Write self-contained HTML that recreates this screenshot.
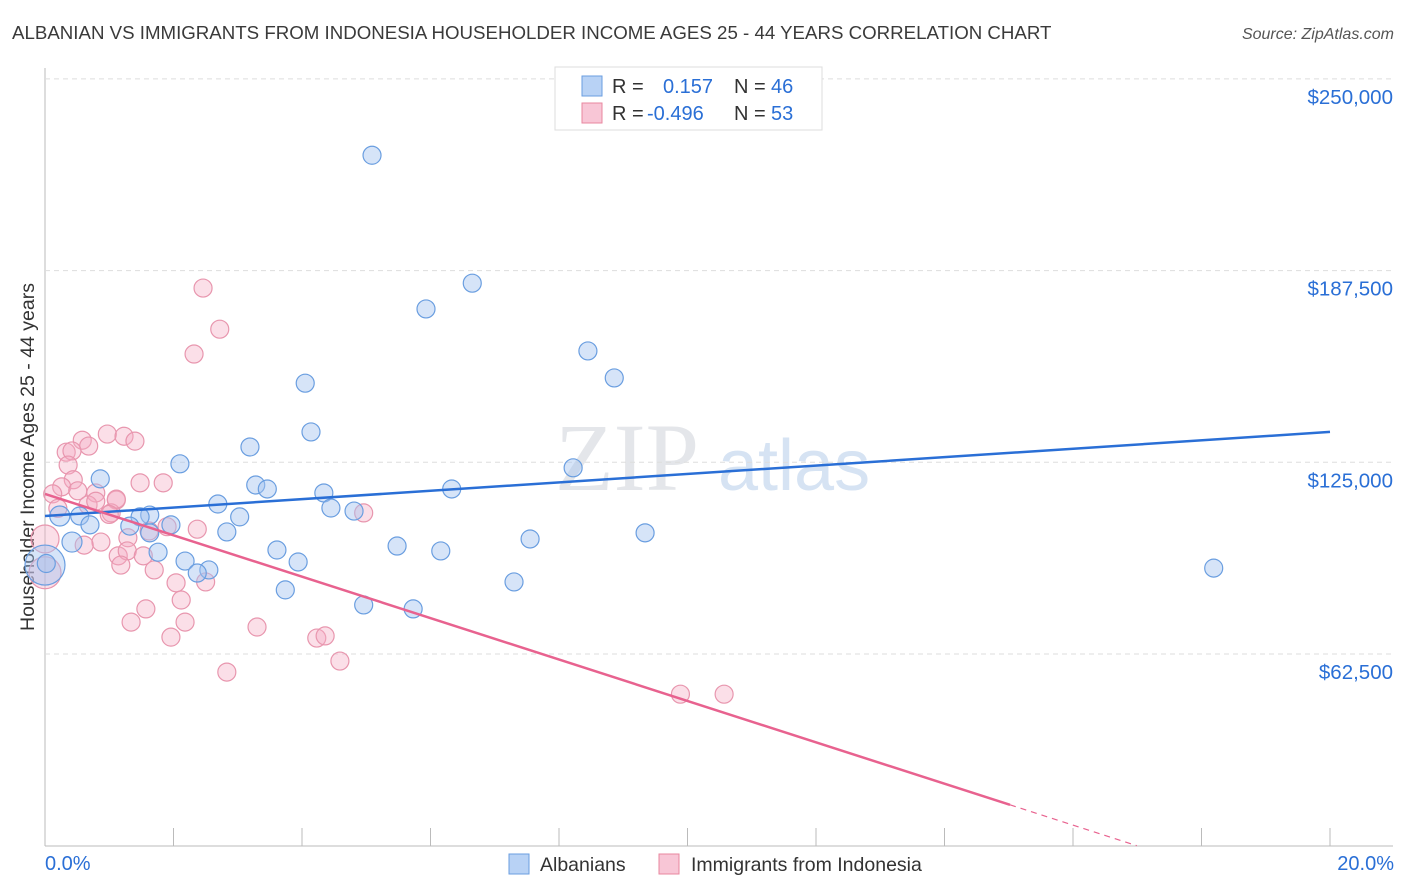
<!DOCTYPE html>
<html><head><meta charset="utf-8"><style>
body{margin:0;background:#fff;font-family:"Liberation Sans",sans-serif}
svg{display:block}
</style></head><body>
<svg id="c" width="1406" height="892">
<text x="12" y="39" font-size="18.7" fill="#3a3a3a">ALBANIAN VS IMMIGRANTS FROM INDONESIA HOUSEHOLDER INCOME AGES 25 - 44 YEARS CORRELATION CHART</text>
<text x="1394" y="39" font-size="16" fill="#555" font-style="italic" text-anchor="end">Source: ZipAtlas.com</text>
<text x="555" y="490" font-size="96" fill="#e4e6ea" font-family="Liberation Serif,serif">ZIP</text>
<text x="718" y="490" font-size="72" fill="#d6e3f3">atlas</text>
<text transform="translate(34,457) rotate(-90)" font-size="19.5" fill="#333" text-anchor="middle">Householder Income Ages 25 - 44 years</text>
<g id="grid"></g><g id="marks"></g>
<g>
<rect x="555" y="67" width="267" height="63" fill="#fff" stroke="#ddd"/>
<rect x="582" y="76" width="20" height="20" fill="#b8d2f5" stroke="#6a9ee0"/>
<rect x="582" y="103" width="20" height="20" fill="#f8c6d6" stroke="#e8879f"/>
<text x="612" y="93" font-size="20" fill="#333">R =</text><text x="663" y="93" font-size="20" fill="#2a6fd6">0.157</text>
<text x="734" y="93" font-size="20" fill="#333">N =</text><text x="771" y="93" font-size="20" fill="#2a6fd6">46</text>
<text x="612" y="120" font-size="20" fill="#333">R =</text><text x="647" y="120" font-size="20" fill="#2a6fd6">-0.496</text>
<text x="734" y="120" font-size="20" fill="#333">N =</text><text x="771" y="120" font-size="20" fill="#2a6fd6">53</text>
</g>
<g>
<rect x="509" y="854" width="20" height="20" fill="#b8d2f5" stroke="#6a9ee0"/>
<text x="540" y="871" font-size="19.5" fill="#333">Albanians</text>
<rect x="659" y="854" width="20" height="20" fill="#f8c6d6" stroke="#e8879f"/>
<text x="691" y="871" font-size="19.5" fill="#333">Immigrants from Indonesia</text>
</g>
<text x="45" y="870" font-size="20" fill="#2a6fd6">0.0%</text>
<text x="1394" y="870" font-size="20" fill="#2a6fd6" text-anchor="end">20.0%</text>
</svg>
<script>
const yTicks=[62.5,125,187.5,250];
const yTickLabels=["$62,500","$125,000","$187,500","$250,000"];
const xTicks=[0,2,4,6,8,10,12,14,16,18,20];
const blueX=[5.09,6.65,5.93,8.45,8.86,4.05,4.14,3.19,2.10,8.22,0.86,3.28,3.46,6.33,4.34,2.69,4.45,4.81,0.23,0.54,1.63,1.48,3.03,0.70,1.32,1.96,2.83,1.63,9.34,7.55,0.42,5.48,3.61,6.16,1.76,2.18,3.94,0,18.19,2.55,2.37,7.30,3.74,4.96,5.73,0.02];
const blueY=[225.1,183.4,175.0,161.3,152.5,150.8,134.9,130.0,124.5,123.2,119.6,117.6,116.3,116.3,115.0,111.4,110.1,109.1,107.5,107.5,107.8,107.2,107.2,104.6,104.2,104.6,102.3,102.0,102.0,100.0,99.0,97.7,96.4,96.1,95.7,92.8,92.5,91.5,90.5,89.9,88.9,86.0,83.4,78.5,77.2,92];
const blueR=[9,9,9,9,9,9,9,9,9,9,9,9,9,9,9,9,9,9,10,9,9,9,9,9,9,9,9,9,9,9,10,9,9,9,9,9,9,20,9,9,9,9,9,9,9,9];
const pinkX=[2.46,2.72,2.32,0.97,1.23,0.58,1.40,0.68,0.33,0.42,0.36,1.48,1.84,0.44,0.26,0.79,0.12,0.51,1.11,0.67,1.03,4.96,0.79,1.11,2.37,1.62,1.29,0.87,0.61,1.14,1.28,1.53,1.70,1.18,2.04,2.12,1.57,1.34,2.18,1.96,3.30,4.23,4.36,4.59,2.83,9.89,10.57,0,0,1.9,0.2,1.0,2.5];
const pinkY=[181.8,168.4,160.3,134.2,133.5,132.2,131.9,130.3,128.3,128.7,124.1,118.3,118.3,119.3,117.0,115.0,114.7,115.7,112.7,111.1,108.5,108.5,112.3,113.0,103.2,102.6,100.4,99.0,98.0,94.5,96.1,94.5,89.9,91.5,85.7,80.1,77.2,72.9,72.9,68.0,71.3,67.7,68.4,60.2,56.6,49.4,49.4,89,100,104,110,108,86];
const pinkR=[9,9,9,9,9,9,9,9,9,9,9,9,9,9,9,9,9,9,9,9,9,9,9,9,9,9,9,9,9,9,9,9,9,9,9,9,9,9,9,9,9,9,9,9,9,9,9,16,14,9,9,9,9];
const blueTrend=[107.5,134.9];
const pinkTrend=[114.7,-20.3];
const X=v=>45+v/20*1285, Y=v=>845.7-v/62.5*191.7;
const NS="http://www.w3.org/2000/svg";
function mk(t,a,p){const e=document.createElementNS(NS,t);for(const k in a)e.setAttribute(k,a[k]);p.appendChild(e);return e;}
const g=document.getElementById('grid'),m=document.getElementById('marks');
const ax=mk('line',{x1:45,y1:68,x2:45,y2:846,stroke:'#bbb'},g);


const bx=mk('line',{x1:45,y1:846,x2:1393,y2:846,stroke:'#bbb'},g);


yTicks.forEach((v,i)=>{
 const l=mk('line',{x1:45,y1:Y(v),x2:1393,y2:Y(v),stroke:'#ddd','stroke-dasharray':'5,4'},g);
 
 
 const t=mk('text',{x:1393,y:Y(v)+25,'font-size':20.5,fill:'#2a6fd6','text-anchor':'end'},g);t.textContent=yTickLabels[i];
 
 
});
xTicks.forEach(v=>{
 const l=mk('line',{x1:X(v),y1:828,x2:X(v),y2:846,stroke:'#bbb'},g);
 
 
});
pinkX.forEach((x,i)=>{
 const c=mk('circle',{cx:X(x),cy:Y(pinkY[i]),r:pinkR[i],fill:'rgba(244,170,195,0.38)',stroke:'#e896ae','stroke-width':1.2},m);
 
 
});
blueX.forEach((x,i)=>{
 const c=mk('circle',{cx:X(x),cy:Y(blueY[i]),r:blueR[i],fill:'rgba(164,196,240,0.45)',stroke:'#6a9ee0','stroke-width':1.2},m);
 
 
});
const bt=mk('line',{x1:X(0),y1:Y(blueTrend[0]),x2:X(20),y2:Y(blueTrend[1]),stroke:'#2a6fd6','stroke-width':2.5},m);


const slope=(pinkTrend[1]-pinkTrend[0])/20, pv=x=>pinkTrend[0]+slope*x;
const xs=15.02, x0=-pinkTrend[0]/slope;
const pt=mk('line',{x1:X(0),y1:Y(pv(0)),x2:X(xs),y2:Y(pv(xs)),stroke:'#e8628f','stroke-width':2.5},m);


const pd=mk('line',{x1:X(xs),y1:Y(pv(xs)),x2:X(x0),y2:Y(0),stroke:'#e8628f','stroke-width':1.2,'stroke-dasharray':'6,5'},m);


</script>
</body></html>
